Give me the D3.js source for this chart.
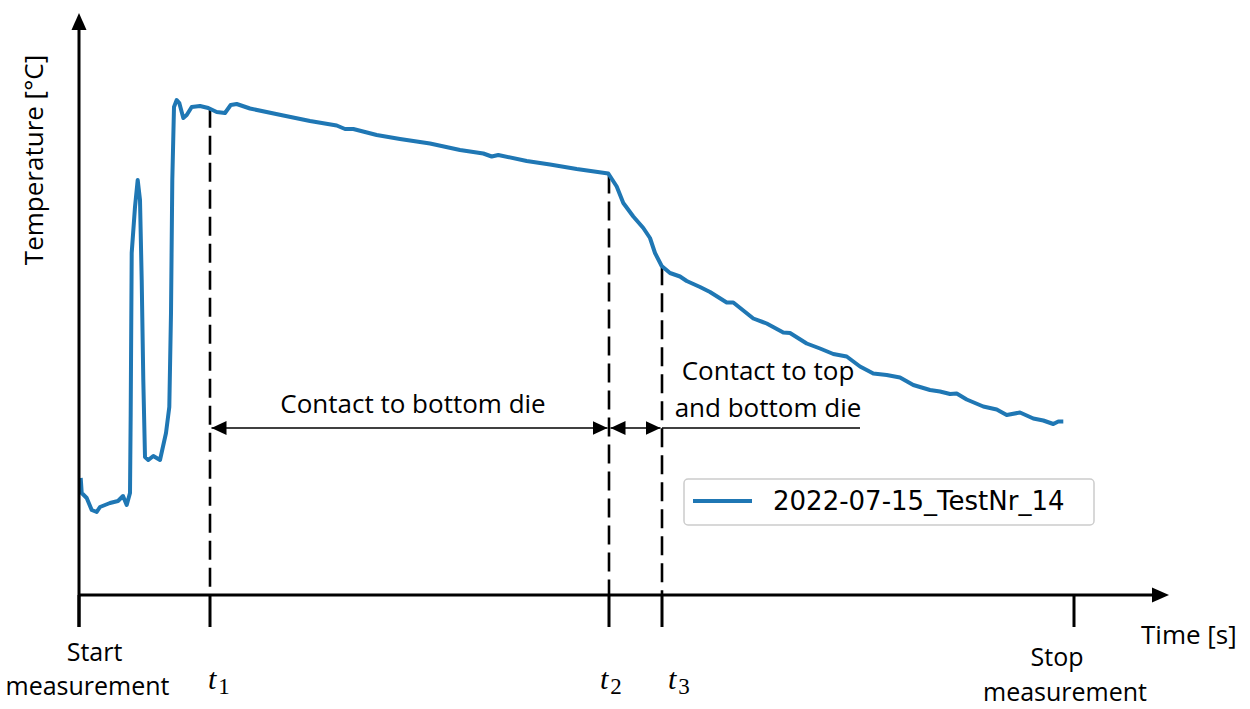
<!DOCTYPE html>
<html>
<head>
<meta charset="utf-8">
<script src="https://cdn.jsdelivr.net/npm/d3@7"></script>
<style>
  body { margin: 0; background: #fff; }
  text { font-family: "Open Sans", sans-serif; fill: #000; }
</style>
</head>
<body>
<svg id="chart" width="1250" height="709"></svg>
<script>
const time = [0.17, 0.27, 0.77, 1.27, 1.77, 2.1, 3.1, 3.9, 4.4, 4.77,
  5.1, 5.17, 5.27, 5.6, 5.87, 6.1, 6.27, 6.43, 6.6, 6.93,
  7.43, 8.1, 8.7, 9.03, 9.2, 9.33, 9.5, 9.77, 10.03, 10.43,
  10.77, 11.27, 12.1, 12.93, 13.77, 14.6, 15.17, 15.77, 17.1, 20.43,
  23.1, 25.77, 26.6, 27.43, 29.77, 32.1, 35.1, 38.1, 40.43, 41.27,
  41.93, 44.77, 47.1, 49.77, 52.93, 53.77, 54.43, 55.43, 56.43, 57.1,
  57.6, 58.27, 59.1, 60.1, 60.77, 62.1, 63.1, 64.77, 65.43, 67.43,
  68.77, 70.43, 71.1, 72.77, 74.1, 75.43, 76.77, 78.1, 79.43, 80.77,
  82.1, 83.43, 85.1, 86.1, 87.1, 87.77, 88.77, 90.43, 91.77, 92.77,
  94.1, 95.43, 96.43, 97.43, 97.93, 98.43];
const temp = [234, 204, 194, 170, 166, 176, 184, 188, 198, 180,
  204, 364, 684, 776, 830, 790, 630, 430, 276, 270,
  278, 270, 324, 376, 564, 830, 976, 990, 984, 954,
  960, 976, 978, 974, 966, 964, 980, 982, 973, 959,
  948, 939, 932, 932, 920, 912, 903, 890, 883, 877,
  880, 868, 861, 852, 843, 817, 784, 757, 734, 714,
  684, 658, 644, 637, 628, 616, 606, 585, 585, 553,
  543, 525, 524, 503, 493, 482, 477, 457, 443, 440,
  435, 420, 410, 407, 402, 403, 391, 377, 371, 360,
  365, 353, 349, 342, 347, 347];

// events on the time axis
const tickTimes = [0, 13.1, 53.0, 58.3, 99.5];
const markTimes = [13.1, 53.0, 58.3];
const markSubs = ["1", "2", "3"];
const spans = [[13.1, 53.0], [53.0, 58.3]];
const plainSpan = [58.3, 78.1];
const seriesName = "2022-07-15_TestNr_14";

const svg = d3.select("#chart");
const x = d3.scaleLinear().domain([0, 108.9]).range([79, 1168]);
const y = d3.scaleLinear().domain([0, 1162]).range([595, 14]);
const data = time.map((t, i) => ({ t: t, v: temp[i] }));

const arrowY = 428;
const fs = 26;

// value of the curve at a given time
function curveAt(t) {
  const i = d3.bisector(d => d.t).left(data, t);
  const a = data[Math.max(0, i - 1)], b = data[Math.min(data.length - 1, i)];
  if (a.t === b.t) return a.v;
  return a.v + (b.v - a.v) * (t - a.t) / (b.t - a.t);
}

// arrow marker
svg.append("defs").append("marker")
  .attr("id", "head")
  .attr("viewBox", "0 -8 16 16")
  .attr("refX", 15).attr("refY", 0)
  .attr("markerWidth", 16).attr("markerHeight", 16)
  .attr("markerUnits", "userSpaceOnUse")
  .attr("orient", "auto-start-reverse")
  .append("path").attr("d", "M0,-7L15,0L0,7Z").attr("fill", "#000");

// dashed event lines
svg.selectAll(".mark").data(markTimes).join("line")
  .attr("x1", d => x(d)).attr("x2", d => x(d))
  .attr("y1", d => y(curveAt(d))).attr("y2", y(0))
  .attr("stroke", "#000").attr("stroke-width", 2.6)
  .attr("stroke-dasharray", "19,8");

// the curve
svg.append("path").datum(data)
  .attr("fill", "none").attr("stroke", "#1f77b4")
  .attr("stroke-width", 4).attr("stroke-linejoin", "round")
  .attr("d", d3.line().x(d => x(d.t)).y(d => y(d.v)));

// axes with arrows
const x0 = x(0), y0 = y(0);
const xEnd = x.range()[1], yEnd = y.range()[1];
svg.append("line").attr("x1", x0).attr("x2", xEnd - 14)
  .attr("y1", y0).attr("y2", y0).attr("stroke", "#000").attr("stroke-width", 3);
svg.append("path").attr("d", `M${xEnd - 16},${y0 - 7.5}L${xEnd + 1},${y0}L${xEnd - 16},${y0 + 7.5}Z`);
svg.append("line").attr("x1", x0).attr("x2", x0)
  .attr("y1", y0 + 32).attr("y2", yEnd + 14).attr("stroke", "#000").attr("stroke-width", 3);
svg.append("path").attr("d", `M${x0 - 7.5},${yEnd + 16}L${x0},${yEnd - 1}L${x0 + 7.5},${yEnd + 16}Z`);

svg.selectAll(".tick").data(tickTimes).join("line")
  .attr("x1", d => x(d)).attr("x2", d => x(d))
  .attr("y1", y0).attr("y2", y0 + 32)
  .attr("stroke", "#000").attr("stroke-width", 3);

// span arrows
svg.selectAll(".span").data(spans).join("line")
  .attr("x1", d => x(d[0]) + 1.5).attr("x2", d => x(d[1]) - 1.5)
  .attr("y1", arrowY).attr("y2", arrowY)
  .attr("stroke", "#000").attr("stroke-width", 1.5)
  .attr("marker-start", "url(#head)").attr("marker-end", "url(#head)");
svg.append("line")
  .attr("x1", x(plainSpan[0])).attr("x2", x(plainSpan[1]))
  .attr("y1", arrowY).attr("y2", arrowY)
  .attr("stroke", "#000").attr("stroke-width", 1.5);

svg.append("text").attr("x", 413).attr("y", 413)
  .attr("text-anchor", "middle").attr("font-size", fs).text("Contact to bottom die");
svg.append("text").attr("x", 768).attr("y", 380)
  .attr("text-anchor", "middle").attr("font-size", fs).text("Contact to top");
svg.append("text").attr("x", 768).attr("y", 417)
  .attr("text-anchor", "middle").attr("font-size", fs).text("and bottom die");

// axis titles
svg.append("text").attr("transform", "translate(43,160) rotate(-90)")
  .attr("text-anchor", "middle").attr("font-size", fs).text("Temperature [°C]");
svg.append("text").attr("x", 1141).attr("y", 644)
  .attr("font-size", fs).text("Time [s]");

svg.append("text").attr("x", 94.5).attr("y", 661)
  .attr("text-anchor", "middle").attr("font-size", 25).text("Start");
svg.append("text").attr("x", 87.5).attr("y", 695)
  .attr("text-anchor", "middle").attr("font-size", 25).text("measurement");
svg.append("text").attr("x", 1057).attr("y", 666)
  .attr("text-anchor", "middle").attr("font-size", 25).text("Stop");
svg.append("text").attr("x", 1065).attr("y", 701)
  .attr("text-anchor", "middle").attr("font-size", 25).text("measurement");

// t1, t2, t3
const tl = svg.selectAll(".tl").data(markTimes).join("text")
  .attr("x", (d, i) => x(d) + [-2, -9, 6][i]).attr("y", 689)
  .style("font-family", "'Liberation Serif', serif");
tl.append("tspan").attr("font-style", "italic").attr("font-size", 30).text("t");
tl.append("tspan").attr("font-size", 23).attr("dy", 5).attr("dx", 2)
  .text((d, i) => markSubs[i]);

// legend
const lg = svg.append("g");
lg.append("rect").attr("x", 684).attr("y", 479).attr("width", 410).attr("height", 46)
  .attr("rx", 4).attr("fill", "#fff").attr("stroke", "#ccc").attr("stroke-width", 1.5);
lg.append("line").attr("x1", 693).attr("x2", 752).attr("y1", 501).attr("y2", 501)
  .attr("stroke", "#1f77b4").attr("stroke-width", 4);
lg.append("text").attr("x", 773).attr("y", 510)
  .style("font-family", "'DejaVu Sans', sans-serif").attr("font-size", 26).text(seriesName);
</script>
</body>
</html>
